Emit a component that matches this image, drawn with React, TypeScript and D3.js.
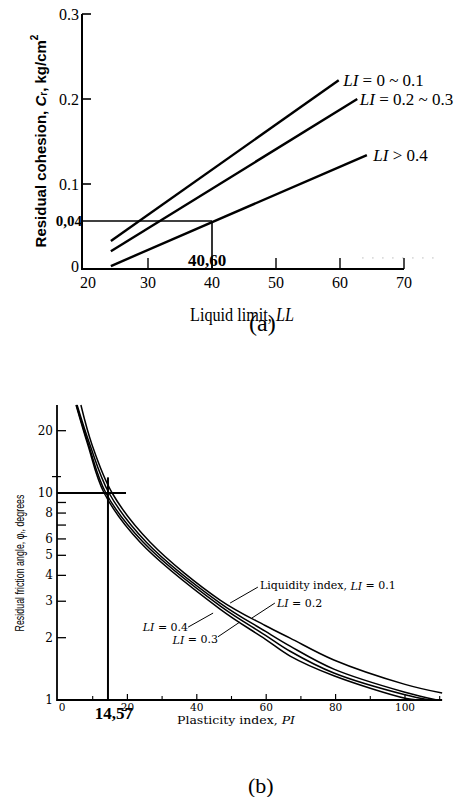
import React from 'react';
import * as d3 from 'd3';

// ---- chart (a): residual cohesion vs liquid limit ----
const llTicks = [20, 30, 40, 50, 60, 70];
const crTicks = [0, 0.1, 0.2, 0.3];
const crTickLabels = ['0', '0.1', '0.2', '0.3'];
const lineLi01: [number, number][] = [[24.2, 0.033], [59.8, 0.222]];
const lineLi23: [number, number][] = [[24.2, 0.021], [62.7, 0.2]];
const lineLi4: [number, number][] = [[24.2, 0.0035], [64.2, 0.134]];
const labelsA = [' = 0 ~ 0.1', ' = 0.2 ~ 0.3', ' > 0.4'];
const labelPosA: [number, number][] = [[60.5, 0.222], [63.1, 0.2], [65.2, 0.134]];
const readLL = 40;
const readCr = 0.0565;

// ---- chart (b): residual friction angle vs plasticity index ----
const piTicks = [0, 20, 40, 60, 80, 100];
const piMinor = [10, 30, 50, 70, 90, 110];
const phiTicks = [1, 2, 3, 4, 5, 6, 8, 10, 20];
const phiMinor = [7, 9];
const curveLi01: [number, number][] = [[6.6, 26.6], [9.8, 17.1], [15.6, 10], [26.5, 5.8], [46.7, 3.04], [59.7, 2.29], [66.9, 1.99], [79.5, 1.56], [100, 1.19], [110.7, 1.08]];
const curveLi02: [number, number][] = [[5.5, 26.6], [9.2, 17.1], [14.7, 10], [25.4, 5.8], [46.7, 2.94], [59.7, 2.15], [66.9, 1.82], [79.5, 1.41], [100, 1.09], [109.2, 1.0]];
const curveLi03: [number, number][] = [[5.3, 26.6], [8.8, 17.1], [13.8, 10], [24.5, 5.8], [46.7, 2.85], [59.7, 2.06], [66.9, 1.72], [79.5, 1.35], [100, 1.06], [107.2, 1.0]];
const curveLi04: [number, number][] = [[5.2, 26.6], [8.6, 17.1], [13.3, 10], [23.6, 5.8], [46.7, 2.75], [59.7, 1.97], [66.9, 1.63], [79.5, 1.31], [100, 1.02], [103.7, 1.0]];
// leader lines: [from label, to curve]
const leaders: [number, number][][] = [
  [[57.6, 3.51], [49.6, 2.94]],
  [[62.5, 2.94], [55.9, 2.49]],
  [[37.5, 2.25], [44.7, 2.63]],
  [[46.1, 2.02], [52.4, 2.38]],
];
const readPI = 14.4;
const readPhi = 10;

const xa = d3.scaleLinear().domain([20, 70]).range([84, 404]);
const ya = d3.scaleLinear().domain([0, 0.3]).range([269, 14]);
const xb = d3.scaleLinear().domain([0, 100]).range([58, 405]);
const yb = d3.scaleLog().domain([1, 10]).range([700, 493]);

const lineA = d3.line<[number, number]>().x(d => xa(d[0])).y(d => ya(d[1]));
const lineB = d3.line<[number, number]>().x(d => xb(d[0])).y(d => yb(d[1])).curve(d3.curveCatmullRom.alpha(0.5));
const segB = d3.line<[number, number]>().x(d => xb(d[0])).y(d => yb(d[1]));

const serif = 'Liberation Serif, Times New Roman, serif';
const slab = 'DejaVu Serif, serif';

const App = () => {
  const axA = xa(20) - 2;
  const axB = xb(0) - 1;
  return (
    <svg width={458} height={797} style={{ position: 'absolute', left: 0, top: 0, background: '#fff' }}>
      {/* ===== (a) ===== */}
      <g>
        <line x1={axA} x2={axA} y1={ya(0.3)} y2={ya(0) + 1} stroke="#000" strokeWidth={2} />
        <line x1={axA} x2={xa(70)} y1={ya(0)} y2={ya(0)} stroke="#000" strokeWidth={2.2} />
        <line x1={xa(63.5)} x2={xa(76)} y1={ya(0.013)} y2={ya(0.013)} stroke="#999" strokeWidth={1} strokeDasharray="1,9" />
        {crTicks.filter(t => t > 0).map(t => (
          <line key={t} x1={axA} x2={axA + 9} y1={ya(t)} y2={ya(t)} stroke="#000" strokeWidth={1.6} />
        ))}
        {crTicks.map((t, i) => (
          <text key={t} x={axA - 3} y={ya(t) + (t === 0 ? -3 : 0)} textAnchor="end" dominantBaseline="central"
            fontFamily={serif} fontSize={16}>{crTickLabels[i]}</text>
        ))}
        {llTicks.filter(t => t > 20).map(t => (
          <line key={t} x1={xa(t)} x2={xa(t)} y1={ya(0)} y2={ya(0) - 11} stroke="#000" strokeWidth={1.4} />
        ))}
        {llTicks.map(t => (
          <text key={t} x={xa(t) + (t === 20 ? 4 : 0)} y={ya(0) + 19} textAnchor="middle"
            fontFamily={serif} fontSize={16}>{t}</text>
        ))}
        {[lineLi01, lineLi23, lineLi4].map((d, i) => (
          <path key={i} d={lineA(d) || ''} fill="none" stroke="#000" strokeWidth={2.4} />
        ))}
        {labelsA.map((l, i) => (
          <text key={l} x={xa(labelPosA[i][0])} y={ya(labelPosA[i][1]) + 6} fontFamily={serif} fontSize={17}>
            <tspan fontStyle="italic">LI</tspan>{l}
          </text>
        ))}
        {/* reading */}
        <line x1={axA} x2={xa(readLL)} y1={ya(readCr)} y2={ya(readCr)} stroke="#000" strokeWidth={1.6} />
        <line x1={xa(readLL)} x2={xa(readLL)} y1={ya(readCr)} y2={ya(0)} stroke="#000" strokeWidth={1.6} />
        <text x={axA} y={ya(readCr) + 5} textAnchor="end" fontFamily={serif} fontWeight="bold" fontSize={15}>0,04</text>
        <text x={xa(readLL) - 5} y={ya(0) - 3} textAnchor="middle" fontFamily={serif} fontWeight="bold" fontSize={17}>40,60</text>
        <text transform={`translate(40,141) rotate(-90)`} textAnchor="middle" dominantBaseline="central"
          fontFamily="Liberation Sans, Arial, sans-serif" fontWeight="bold" fontSize={15}>
          Residual cohesion, <tspan fontStyle="italic">C</tspan><tspan fontSize={10} dy={3}>r</tspan><tspan dy={-3}>, kg/cm</tspan><tspan fontSize={10} dy={-6}>2</tspan>
        </text>
        <text x={190} y={321} fontFamily={serif} fontSize={18} textLength={104} lengthAdjust="spacingAndGlyphs">
          Liquid limit, <tspan fontStyle="italic">LL</tspan>
        </text>
        <text x={249} y={331} fontFamily={serif} fontSize={24}>(a)</text>
      </g>

      {/* ===== (b) ===== */}
      <g>
        <line x1={axB} x2={axB} y1={yb(26.6)} y2={yb(1) + 1} stroke="#000" strokeWidth={1.8} />
        <line x1={axB} x2={xb(110.7)} y1={yb(1)} y2={yb(1)} stroke="#000" strokeWidth={1.8} />
        {phiTicks.filter(t => t > 1).map(t => (
          <line key={t} x1={axB} x2={axB + 9} y1={yb(t)} y2={yb(t)} stroke="#000" strokeWidth={t === 10 ? 2 : 1.3} />
        ))}
        {phiMinor.map(t => (
          <line key={t} x1={axB} x2={axB + 9} y1={yb(t)} y2={yb(t)} stroke="#000" strokeWidth={1.3} />
        ))}
        <line x1={axB - 5} x2={axB + 4} y1={yb(12)} y2={yb(12)} stroke="#000" strokeWidth={1.2} />
        {phiTicks.map(t => (
          <text key={t} x={axB - 4} y={yb(t)} textAnchor="end" dominantBaseline="central"
            fontFamily={slab} fontSize={12}>{t}</text>
        ))}
        {piTicks.filter(t => t > 0).map(t => (
          <line key={t} x1={xb(t)} x2={xb(t)} y1={yb(1)} y2={yb(1) - 6} stroke="#000" strokeWidth={1.2} />
        ))}
        {piMinor.map(t => (
          <line key={t} x1={xb(t)} x2={xb(t)} y1={yb(1)} y2={yb(1) - 4} stroke="#000" strokeWidth={1.1} />
        ))}
        {piTicks.map(t => (
          <text key={t} x={xb(t) + (t === 0 ? 4 : 0)} y={yb(1) + 11} textAnchor="middle"
            fontFamily={slab} fontSize={10.5}>{t}</text>
        ))}
        {[curveLi01, curveLi02, curveLi03, curveLi04].map((d, i) => (
          <path key={i} d={lineB(d) || ''} fill="none" stroke="#000" strokeWidth={1.5} />
        ))}
        {leaders.map((d, i) => (
          <path key={i} d={segB(d) || ''} fill="none" stroke="#000" strokeWidth={1} />
        ))}
        <text x={xb(58.2)} y={yb(3.56)} dominantBaseline="central" fontFamily={slab} fontSize={11}>
          Liquidity index, <tspan fontStyle="italic">LI</tspan> = 0.1
        </text>
        <text x={xb(63.1)} y={yb(2.94)} dominantBaseline="central" fontFamily={slab} fontSize={11}>
          <tspan fontStyle="italic">LI</tspan> = 0.2
        </text>
        <text x={xb(37.5)} y={yb(2.25)} textAnchor="end" dominantBaseline="central" fontFamily={slab} fontSize={11}>
          <tspan fontStyle="italic">LI</tspan> = 0.4
        </text>
        <text x={xb(46.1)} y={yb(1.95)} textAnchor="end" dominantBaseline="central" fontFamily={slab} fontSize={11}>
          <tspan fontStyle="italic">LI</tspan> = 0.3
        </text>
        {/* reading */}
        <line x1={axB} x2={xb(19.6)} y1={yb(readPhi)} y2={yb(readPhi)} stroke="#000" strokeWidth={2} />
        <line x1={xb(readPI)} x2={xb(readPI)} y1={yb(11.9)} y2={yb(1)} stroke="#000" strokeWidth={2} />
        <text x={xb(readPI) + 6} y={yb(1) + 19} textAnchor="middle" fontFamily={serif} fontWeight="bold" fontSize={17}>14,57</text>
        <text transform={`translate(20,563) rotate(-90)`} textAnchor="middle" dominantBaseline="central"
          fontFamily="Liberation Sans Narrow, Liberation Sans, sans-serif" fontSize={12} textLength={137} lengthAdjust="spacingAndGlyphs">
          Residual friction angle, φ<tspan fontSize={8} dy={2}>r</tspan><tspan dy={-2}>, degrees</tspan>
        </text>
        <text x={177} y={724} fontFamily={slab} fontSize={11} textLength={118} lengthAdjust="spacingAndGlyphs">
          Plasticity index, <tspan fontStyle="italic">PI</tspan>
        </text>
        <text x={248} y={793} fontFamily={serif} fontSize={22}>(b)</text>
      </g>
    </svg>
  );
};

export default App;
